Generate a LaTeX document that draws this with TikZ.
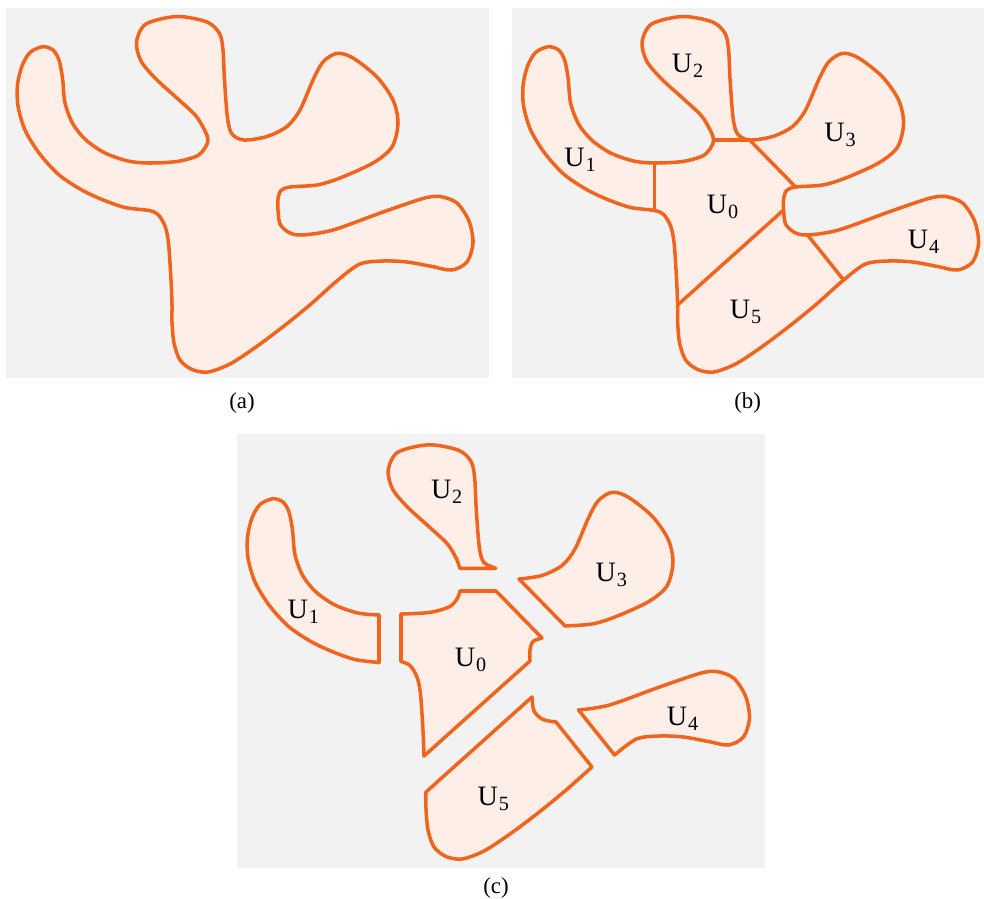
\documentclass[tikz,border=0pt]{standalone}
\usepackage{fontspec}
\setmainfont{Liberation Serif}

\definecolor{edgeorange}{RGB}{240,100,30}
\definecolor{blobfill}{RGB}{253,239,232}
\definecolor{panelgray}{RGB}{242,242,242}

\newcommand{\ulbl}[1]{U\kern0.5pt\raisebox{-3pt}{\fontsize{11.5}{11.5}\selectfont #1}}

% whole outline of the domain
\newcommand{\blobpath}{plot[smooth cycle] coordinates {
    (149,163) (177,161.5) (197,156) (205,148) (208,140) (205,131) (196,116)
    (178,99) (156,79) (141,61) (136.5,42) (146,24) (177,16.5) (207,22)
    (219.5,33.5) (223,50) (224.5,80) (227.5,118) (232,134) (244,140) (267,136.5)
    (287,126.5) (300,110) (313,80) (323,62) (337,53.3) (353,58) (377,77)
    (393,100) (398,123) (392,147) (373,163) (340,178) (317,185) (290,187)
    (281,190.5) (278,199) (278,210) (280,224) (289,232.5) (302,235) (333,230)
    (383,212) (423,198.5) (440,196.5) (457,203) (469,221) (473,243) (467,262)
    (452,270) (432,266.5) (407,262) (383,261) (360,264) (338,280)
    (311,304) (284,326) (256,347) (230,364) (208,372) (192,369.5) (180,360)
    (174,343) (172,322) (172,305) (171,280) (168.5,243) (165,226) (158,214.5)
    (149,210.5) (125,207.5) (102,199.5) (80,189) (58,174) (39,153) (25,130)
    (18,106) (17.5,85) (22,66) (30,52.5) (42.7,46.7) (53,50) (59,60)
    (62.5,78) (65,103) (73,124) (86,140) (105,153) (128,161)}}

\tikzset{
    region/.style={draw=edgeorange, fill=blobfill, line width=2pt, line join=round},
    cutline/.style={draw=edgeorange, line width=2pt},
    panel/.style={fill=panelgray},
    lbl/.style={font=\fontsize{16}{16}\selectfont, anchor=base, inner sep=0pt},
    caption/.style={font=\fontsize{13}{13}\selectfont, anchor=base, inner sep=0pt}
}

\begin{document}
\begin{tikzpicture}[x=0.02cm, y=-0.02cm]
    \useasboundingbox (0,0) rectangle (984,899);

    % (a)
    \fill[panel] (6,8) rectangle (489,378);
    \path[region] \blobpath;
    \node[caption] (capa) at (242,408) {(a)};

    % (b)
    \begin{scope}[shift={(505.6,0)}]
        \fill[panel] (6,8) rectangle (478.4,378);
        \path[region] \blobpath;

        \coordinate (p1) at (149,163);
        \coordinate (p2) at (208,140);
        \coordinate (p3) at (244,140);
        \coordinate (p4) at (290,187);
        \coordinate (p5) at (278,210);
        \coordinate (p6) at (302,235);
        \coordinate (p7) at (338,280);
        \coordinate (p8) at (172,305);
        \coordinate (p9) at (149,210.5);

        \draw[cutline] (p1) -- (p9);
        \draw[cutline] (p2) -- (p3) -- (p4);
        \draw[cutline] (p5) -- (p8);
        \draw[cutline] (p6) -- (p7);

        \node[lbl] (bU0) at (217,213.3) {\ulbl{0}};
        \node[lbl] (bU1) at (74.4,166.7) {\ulbl{1}};
        \node[lbl] (bU2) at (182,72.7) {\ulbl{2}};
        \node[lbl] (bU3) at (334.4,141.7) {\ulbl{3}};
        \node[lbl] (bU4) at (418,248.3) {\ulbl{4}};
        \node[lbl] (bU5) at (240,318.3) {\ulbl{5}};

        \node[caption] (capb) at (242,408) {(b)};
    \end{scope}

    % (c)
    \fill[panel] (237,434) rectangle (765,868);

    \begin{scope}[shift={(252,451)}]
        \path[region] plot[smooth] coordinates {(149,163) (177,161.5) (197,156) (205,148) (208,140)}
            -- (244,140) -- (290,187)
            -- plot[smooth] coordinates {(290,187) (281,190.5) (278,199) (278,210)}
            -- (172,305)
            -- plot[smooth] coordinates {(172,305) (171,280) (168.5,243) (165,226) (158,214.5) (149,210.5)}
            -- cycle;
    \end{scope}

    \begin{scope}[shift={(230,452)}]
        \path[region] plot[smooth] coordinates {(149,210.5) (125,207.5) (102,199.5) (80,189) (58,174)
            (39,153) (25,130) (18,106) (17.5,85) (22,66) (30,52.5) (42.7,46.7) (53,50)
            (59,60) (62.5,78) (65,103) (73,124) (86,140) (105,153) (128,161) (149,163)}
            -- cycle;
    \end{scope}

    \begin{scope}[shift={(251.7,428.3)}]
        \path[region] plot[smooth] coordinates {(208,140) (205,131) (196,116) (178,99) (156,79)
            (141,61) (136.5,42) (146,24) (177,16.5) (207,22) (219.5,33.5) (223,50) (224.5,80)
            (227.5,118) (232,134) (244,140)}
            -- cycle;
    \end{scope}

    \begin{scope}[shift={(275,439)}]
        \path[region] plot[smooth] coordinates {(244,140) (267,136.5) (287,126.5) (300,110) (313,80)
            (323,62) (337,53.3) (353,58) (377,77) (393,100) (398,123) (392,147) (373,163)
            (340,178) (317,185) (290,187)}
            -- cycle;
    \end{scope}

    \begin{scope}[shift={(276.5,475)}]
        \path[region] plot[smooth] coordinates {(302,235) (333,230) (383,212) (423,198.5) (440,196.5)
            (457,203) (469,221) (473,243) (467,262) (452,270) (432,266.5) (407,262) (383,261)
            (360,264) (338,280)}
            -- cycle;
    \end{scope}

    \begin{scope}[shift={(254,487)}]
        \path[region] plot[smooth] coordinates {(278,210) (280,224) (289,232.5) (302,235)}
            -- (338,280)
            -- plot[smooth] coordinates {(338,280) (311,304) (284,326) (256,347) (230,364)
            (208,372) (192,369.5) (180,360) (174,343) (172,322) (172,305)}
            -- cycle;
    \end{scope}

    \node[lbl] (cU0) at (470.5,666.7) {\ulbl{0}};
    \node[lbl] (cU1) at (303.3,618) {\ulbl{1}};
    \node[lbl] (cU2) at (446.7,498.3) {\ulbl{2}};
    \node[lbl] (cU3) at (611.3,581.7) {\ulbl{3}};
    \node[lbl] (cU4) at (682.5,725) {\ulbl{4}};
    \node[lbl] (cU5) at (493.3,805.7) {\ulbl{5}};

    \node[caption] (capc) at (496,893) {(c)};

\end{tikzpicture}
\end{document}
